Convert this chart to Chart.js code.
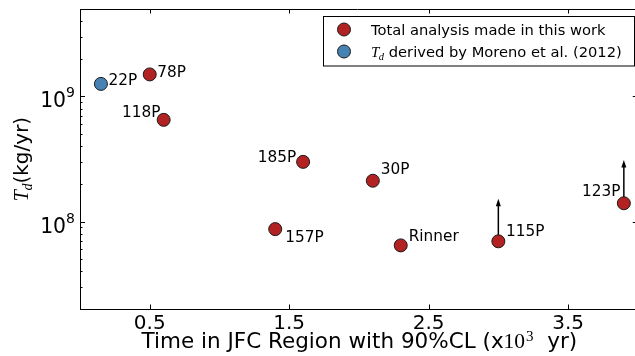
<!DOCTYPE html>
<html>
<head>
<meta charset="utf-8">
<script src="https://cdn.jsdelivr.net/npm/chart.js@4.4.0/dist/chart.umd.min.js"></script>
<style>
  html, body { margin:0; padding:0; background:#fff; }
  #wrap { width:635px; height:356px; }
</style>
</head>
<body>
<div id="wrap"><canvas id="chart" width="635" height="356"></canvas></div>
<script>
/* Dust production rate vs. time spent in the JFC region */

// this work
const comets   = ['78P', '118P', '185P', '157P', '30P', 'Rinner', '115P', '123P'];
const timeJfc  = [0.5, 0.6, 1.6, 1.4, 2.1, 2.3, 3.0, 3.9];
const dustRate = [1.5e9, 6.5e8, 3.0e8, 8.7e7, 2.12e8, 6.45e7, 6.95e7, 1.4e8];

// Moreno et al. (2012)
const morenoComets = ['22P'];
const morenoTime   = [0.15];
const morenoRate   = [1.26e9];

// lower limits (arrow from point up to tip value)
const limitComets = ['115P', '123P'];
const limitTips   = [1.52e8, 3.1e8];

const xTicks = [0.5, 1.5, 2.5, 3.5];
const yMajor = [1e8, 1e9];
const yMinor = [2e7,3e7,4e7,5e7,6e7,7e7,8e7,9e7, 2e8,3e8,4e8,5e8,6e8,7e8,8e8,9e8, 2e9,3e9,4e9,5e9];

const legendLabels = ['Total analysis made in this work', 'derived by Moreno et al. (2012)'];

const RED = '#b22222', BLUE = '#4682b4', EDGE = '#1a1a1a';
const SANS = '"DejaVu Sans", sans-serif';
const SERIF = '"Liberation Serif", "DejaVu Serif", serif';

// label placement: dx, dy (baseline) from point centre, text alignment
const labelPos = {
  '22P':   [7.5, 1, 'left'],
  '78P':   [7.5, 2.5, 'left'],
  '118P':  [-3.3, -3.3, 'right'],
  '185P':  [-7, 0, 'right'],
  '157P':  [10, 12.4, 'left'],
  '30P':   [8, -7.2, 'left'],
  'Rinner':[8, -4.3, 'left'],
  '115P':  [7.7, -5.3, 'left'],
  '123P':  [-3.3, -7.3, 'right']
};

function drawTd(ctx, x, y, size){
  // italic T with subscript d, returns width
  ctx.font = 'italic ' + size + 'px ' + SERIF;
  ctx.textAlign = 'left';
  ctx.fillText('T', x, y);
  let w = ctx.measureText('T').width;
  ctx.font = 'italic ' + (size*0.7) + 'px ' + SERIF;
  ctx.fillText('d', x + w - 0.5, y + size*0.2);
  w += ctx.measureText('d').width - 0.5;
  return w;
}

const overlay = {
  id: 'overlay',
  beforeDatasetsDraw(chart){
    const ctx = chart.ctx, xs = chart.scales.x, ys = chart.scales.y;
    ctx.save();
    ctx.strokeStyle = '#000'; ctx.fillStyle = '#000'; ctx.lineWidth = 1.5;
    limitComets.forEach((name, i) => {
      const k = comets.indexOf(name);
      const px = xs.getPixelForValue(timeJfc[k]);
      const py = ys.getPixelForValue(dustRate[k]);
      const ty = ys.getPixelForValue(limitTips[i]);
      ctx.beginPath(); ctx.moveTo(px, py); ctx.lineTo(px, ty + 6); ctx.stroke();
      ctx.beginPath();
      ctx.moveTo(px, ty); ctx.lineTo(px - 2.5, ty + 7.5); ctx.lineTo(px + 2.5, ty + 7.5);
      ctx.closePath(); ctx.fill();
    });
    ctx.restore();
  },
  afterDraw(chart){
    const ctx = chart.ctx, xs = chart.scales.x, ys = chart.scales.y;
    const a = chart.chartArea;
    const rightSpine = xs.getPixelForValue(4.0);   // lies just past the canvas edge
    ctx.save();
    ctx.strokeStyle = '#000'; ctx.fillStyle = '#000'; ctx.lineWidth = 1;

    // top spine
    ctx.beginPath(); ctx.moveTo(a.left, a.top + 0.5); ctx.lineTo(a.right, a.top + 0.5); ctx.stroke();

    // inward ticks
    ctx.beginPath();
    xTicks.forEach(v => {
      const px = Math.round(xs.getPixelForValue(v)) + 0.5;
      ctx.moveTo(px, a.bottom); ctx.lineTo(px, a.bottom - 4.5);
      ctx.moveTo(px, a.top); ctx.lineTo(px, a.top + 4.5);
    });
    yMajor.forEach(v => {
      const py = Math.round(ys.getPixelForValue(v)) + 0.5;
      ctx.moveTo(a.left, py); ctx.lineTo(a.left + 5, py);
      ctx.moveTo(rightSpine, py); ctx.lineTo(rightSpine - 5, py);
    });
    yMinor.forEach(v => {
      const py = Math.round(ys.getPixelForValue(v)) + 0.5;
      ctx.moveTo(a.left, py); ctx.lineTo(a.left + 2.5, py);
      ctx.moveTo(rightSpine, py); ctx.lineTo(rightSpine - 2.5, py);
    });
    ctx.stroke();

    // y tick labels 10^n
    yMajor.forEach(v => {
      const py = ys.getPixelForValue(v);
      const exp = String(Math.round(Math.log10(v)));
      ctx.font = '14px ' + SANS;
      const we = ctx.measureText(exp).width;
      ctx.textAlign = 'right'; ctx.textBaseline = 'alphabetic';
      ctx.fillText(exp, a.left - 5, py + 1);
      ctx.font = '20.4px ' + SANS;
      ctx.fillText('10', a.left - 5 - we, py + 11);
    });

    // y axis title
    ctx.save();
    ctx.translate(27.5, (a.top + a.bottom) / 2);
    ctx.rotate(-Math.PI / 2);
    ctx.font = '20px ' + SANS;
    const unit = '(kg/yr)';
    const wu = ctx.measureText(unit).width;
    ctx.font = 'italic 20px ' + SERIF;
    const wt = ctx.measureText('T').width;
    ctx.font = 'italic 14px ' + SERIF;
    const wd = ctx.measureText('d').width;
    const total = wt + wd - 0.5 + wu;
    let x0 = -total / 2;
    const wT = drawTd(ctx, x0, 0, 20);
    ctx.font = '20px ' + SANS; ctx.textAlign = 'left';
    ctx.fillText(unit, x0 + wT, 0);
    ctx.restore();

    // x axis title
    const partA = 'Time in JFC Region with 90%CL (x', partB = '10', partC = '3', partD = '  yr)';
    const fs = 21.5;
    ctx.textAlign = 'left'; ctx.textBaseline = 'alphabetic';
    ctx.font = fs + 'px ' + SANS; const wA = ctx.measureText(partA).width, wD = ctx.measureText(partD).width;
    ctx.font = fs + 'px ' + SERIF; const wB = ctx.measureText(partB).width;
    ctx.font = '15px ' + SERIF; const wC = ctx.measureText(partC).width;
    let tx = (a.left + rightSpine) / 2 - (wA + wB + wC + wD) / 2;
    const tb = 348;
    ctx.font = fs + 'px ' + SANS; ctx.fillText(partA, tx, tb); tx += wA;
    ctx.font = fs + 'px ' + SERIF; ctx.fillText(partB, tx, tb); tx += wB;
    ctx.font = '15px ' + SERIF; ctx.fillText(partC, tx + 1, tb - 7.5); tx += wC + 1;
    ctx.font = fs + 'px ' + SANS; ctx.fillText(partD, tx, tb);

    // point labels
    ctx.font = '15.3px ' + SANS;
    const put = (names, xv, yv) => names.forEach((n, i) => {
      const p = labelPos[n];
      ctx.textAlign = p[2];
      ctx.fillText(n, xs.getPixelForValue(xv[i]) + p[0], ys.getPixelForValue(yv[i]) + p[1]);
    });
    put(comets, timeJfc, dustRate);
    put(morenoComets, morenoTime, morenoRate);

    // legend
    ctx.fillStyle = '#fff'; ctx.strokeStyle = '#000'; ctx.lineWidth = 1;
    ctx.fillRect(323.5, 16.5, 311, 49.5);
    ctx.strokeRect(323.5, 16.5, 311, 49.5);
    [[RED, 29.5], [BLUE, 51.5]].forEach(([c, y]) => {
      ctx.beginPath(); ctx.arc(344, y, 6.5, 0, Math.PI * 2);
      ctx.fillStyle = c; ctx.fill(); ctx.strokeStyle = EDGE; ctx.stroke();
    });
    ctx.fillStyle = '#000'; ctx.textAlign = 'left';
    ctx.font = '14.7px ' + SANS;
    ctx.fillText(legendLabels[0], 371, 34.5);
    const wl = drawTd(ctx, 371, 56.5, 15);
    ctx.font = '14.7px ' + SANS; ctx.textAlign = 'left';
    ctx.fillText(' ' + legendLabels[1], 371 + wl, 56.5);
    ctx.restore();
  }
};

new Chart(document.getElementById('chart'), {
  type: 'scatter',
  data: {
    datasets: [
      {
        label: legendLabels[0],
        data: timeJfc.map((t, i) => ({ x: t, y: dustRate[i] })),
        backgroundColor: RED, borderColor: EDGE, borderWidth: 1,
        pointRadius: 6.5, pointHoverRadius: 6.5
      },
      {
        label: legendLabels[1],
        data: morenoTime.map((t, i) => ({ x: t, y: morenoRate[i] })),
        backgroundColor: BLUE, borderColor: EDGE, borderWidth: 1,
        pointRadius: 6.5, pointHoverRadius: 6.5
      }
    ]
  },
  options: {
    responsive: false,
    animation: false,
    devicePixelRatio: 1,
    layout: { autoPadding: false, padding: { top: 9, right: 0, left: 0, bottom: 0 } },
    plugins: { legend: { display: false }, tooltip: { enabled: false } },
    scales: {
      x: {
        type: 'linear', min: 0, max: 3.98,
        grid: { display: false, drawTicks: false },
        border: { display: true, color: '#000', width: 1 },
        afterBuildTicks: s => { s.ticks = xTicks.map(v => ({ value: v })); },
        afterFit: s => { s.height = 47; s.paddingLeft = 0; s.paddingRight = 0; },
        ticks: {
          color: '#000', padding: 3,
          font: { family: 'DejaVu Sans', size: 20 },
          callback: v => v.toFixed(1)
        }
      },
      y: {
        type: 'logarithmic', min: 2e7, max: 5e9,
        grid: { display: false, drawTicks: false },
        border: { display: true, color: '#000', width: 1 },
        afterBuildTicks: s => { s.ticks = yMajor.map(v => ({ value: v })); },
        afterFit: s => { s.width = 80; s.paddingTop = 0; s.paddingBottom = 0; },
        ticks: { display: false }
      }
    }
  },
  plugins: [overlay]
});
</script>
</body>
</html>
